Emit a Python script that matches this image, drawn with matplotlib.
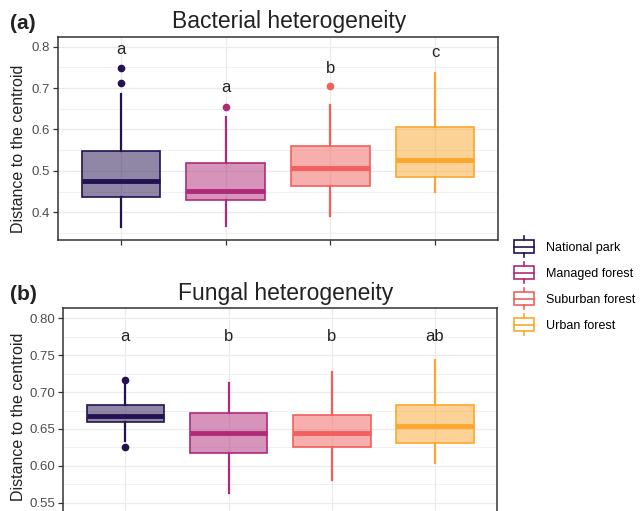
import matplotlib
matplotlib.use("Agg")
import matplotlib.pyplot as plt
from matplotlib.colors import to_rgba
from matplotlib.legend_handler import HandlerBase
from matplotlib.patches import Rectangle, Patch
from matplotlib.lines import Line2D
from matplotlib.ticker import MultipleLocator

plt.rcParams['font.family'] = ['Liberation Sans', 'DejaVu Sans']

groups = ['National park', 'Managed forest', 'Suburban forest', 'Urban forest']
colors = ['#231151', '#B02A78', '#F1605D', '#FBA72F']

# bacterial heterogeneity (box stats)
bac_q1 = [0.438, 0.430, 0.464, 0.486]
bac_med = [0.476, 0.452, 0.508, 0.526]
bac_q3 = [0.547, 0.518, 0.560, 0.606]
bac_lo = [0.365, 0.367, 0.391, 0.448]
bac_hi = [0.685, 0.629, 0.659, 0.737]
bac_out = [[0.713, 0.748], [0.654], [0.706], []]
bac_letters = ['a', 'a', 'b', 'c']
bac_letter_y = [0.792, 0.702, 0.747, 0.787]

# fungal heterogeneity
fun_q1 = [0.659, 0.618, 0.626, 0.631]
fun_med = [0.667, 0.645, 0.644, 0.654]
fun_q3 = [0.682, 0.672, 0.669, 0.683]
fun_lo = [0.633, 0.563, 0.581, 0.604]
fun_hi = [0.710, 0.712, 0.727, 0.743]
fun_out = [[0.716, 0.625], [], [], []]
fun_letters = ['a', 'b', 'b', 'ab']
fun_letter_y = [0.775, 0.775, 0.775, 0.775]


class BoxHandler(HandlerBase):
    def create_artists(self, legend, orig_handle, xdescent, ydescent,
                       width, height, fontsize, trans):
        c = orig_handle.get_edgecolor()
        x0, y0 = -xdescent, -ydescent
        rect = Rectangle((x0, y0), width, height, facecolor='none',
                         edgecolor=c, lw=1.2, transform=trans)
        mid = Line2D([x0, x0 + width], [y0 + height / 2] * 2, color=c, lw=1.2, transform=trans)
        ext = height * 0.3
        wt = Line2D([x0 + width / 2] * 2, [y0 + height, y0 + height + ext], color=c, lw=1.2, transform=trans)
        wb = Line2D([x0 + width / 2] * 2, [y0, y0 - ext], color=c, lw=1.2, transform=trans)
        return [rect, mid, wt, wb]


def draw_panel(ax, q1, med, q3, lo, hi, out, letters, letter_y):
    stats = []
    for i in range(len(groups)):
        stats.append(dict(q1=q1[i], med=med[i], q3=q3[i], whislo=lo[i],
                          whishi=hi[i], fliers=out[i]))
    pos = list(range(1, len(groups) + 1))
    bp = ax.bxp(stats, positions=pos, widths=0.75, patch_artist=True,
                showcaps=False, zorder=3)
    for i, c in enumerate(colors):
        bp['boxes'][i].set(facecolor=to_rgba(c, 0.5), edgecolor=c, lw=1.2)
        bp['medians'][i].set(color=c, lw=3.5, solid_capstyle='butt')
        for w in bp['whiskers'][2 * i:2 * i + 2]:
            w.set(color=c, lw=1.6)
        bp['fliers'][i].set(marker='o', markerfacecolor=c, markeredgecolor=c,
                            markersize=4.5)
        ax.text(pos[i], letter_y[i], letters[i], ha='center', va='center',
                fontsize=12, color='#222222')
    ax.set_xlim(0.4, 4.6)
    ax.set_xticks(pos)
    ax.set_xticklabels([])
    ax.grid(True, which='major', color='#EBEBEB', lw=0.9, zorder=0)
    ax.grid(True, which='minor', axis='y', color='#EBEBEB', lw=0.5, zorder=0)
    ax.set_axisbelow(True)
    for s in ax.spines.values():
        s.set_color('#333333')
        s.set_linewidth(1.1)
    ax.tick_params(axis='both', which='major', length=3.5, width=0.9, color='#333333',
                   labelsize=9.5, labelcolor='#4D4D4D', pad=2)
    ax.tick_params(axis='y', which='minor', length=0)


W, H = 644, 511
fig = plt.figure(figsize=(W / 100, H / 100), dpi=100)

ax1 = fig.add_axes([58 / W, 1 - 240 / H, 440 / W, 203 / H])
draw_panel(ax1, bac_q1, bac_med, bac_q3, bac_lo, bac_hi, bac_out, bac_letters, bac_letter_y)
ax1.set_ylim(0.333, 0.8234)
ax1.set_yticks([0.4, 0.5, 0.6, 0.7, 0.8])
ax1.set_yticklabels(['0.4', '0.5', '0.6', '0.7', '0.8'])
ax1.yaxis.set_minor_locator(MultipleLocator(0.05))

ax2 = fig.add_axes([63.3 / W, 1 - 521 / H, 433.7 / W, 212.7 / H])
draw_panel(ax2, fun_q1, fun_med, fun_q3, fun_lo, fun_hi, fun_out, fun_letters, fun_letter_y)
ax2.set_ylim(0.5252, 0.8136)
ax2.set_yticks([0.55, 0.60, 0.65, 0.70, 0.75, 0.80])
ax2.set_yticklabels(['0.55', '0.60', '0.65', '0.70', '0.75', '0.80'])
ax2.yaxis.set_minor_locator(MultipleLocator(0.025))

# titles, panel tags, y labels
fig.text(289 / W, 1 - 28 / H, 'Bacterial heterogeneity', ha='center', va='baseline', fontsize=16.5, color='#222222')
fig.text(286 / W, 1 - 300 / H, 'Fungal heterogeneity', ha='center', va='baseline', fontsize=16.5, color='#222222')
fig.text(10 / W, 1 - 29 / H, '(a)', ha='left', va='baseline', fontsize=15, fontweight='bold', color='#222222')
fig.text(10 / W, 1 - 300 / H, '(b)', ha='left', va='baseline', fontsize=15, fontweight='bold', color='#222222')
fig.text(19 / W, 1 - 149 / H, 'Distance to the centroid', rotation=90, ha='center', va='center', fontsize=11.5, color='#222222')
fig.text(19 / W, 1 - 417 / H, 'Distance to the centroid', rotation=90, ha='center', va='center', fontsize=11.5, color='#222222')

handles = [Patch(edgecolor=c, facecolor='none') for c in colors]
fig.legend(handles, groups, handler_map={Patch: BoxHandler()},
           loc='center left', bbox_to_anchor=(514 / W, 1 - 286 / H),
           frameon=False, fontsize=9, handlelength=1.6, handleheight=1.25,
           handletextpad=1.0, labelspacing=0.97, borderpad=0, borderaxespad=0)

plt.savefig('out.png', dpi=100)
plt.close()
